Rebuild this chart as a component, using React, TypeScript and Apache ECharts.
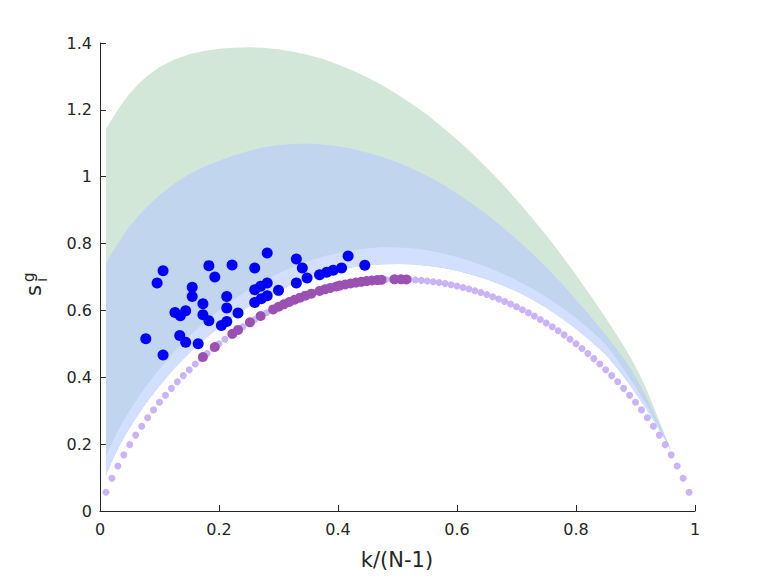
import React, { useEffect, useRef } from "react";
import * as echarts from "echarts";

// light purple reference curve points
const lightX = [
  0.01, 0.02, 0.03, 0.04, 0.05, 0.06, 0.07, 0.08, 0.09, 0.1,
  0.11, 0.12, 0.13, 0.14, 0.15, 0.16, 0.17, 0.18, 0.19, 0.2,
  0.21, 0.22, 0.23, 0.24, 0.25, 0.26, 0.27, 0.28, 0.29, 0.3,
  0.31, 0.32, 0.33, 0.34, 0.35, 0.36, 0.37, 0.38, 0.39, 0.4,
  0.41, 0.42, 0.43, 0.44, 0.45, 0.46, 0.47, 0.48, 0.49, 0.5,
  0.51, 0.52, 0.53, 0.54, 0.55, 0.56, 0.57, 0.58, 0.59, 0.6,
  0.61, 0.62, 0.63, 0.64, 0.65, 0.66, 0.67, 0.68, 0.69, 0.7,
  0.71, 0.72, 0.73, 0.74, 0.75, 0.76, 0.77, 0.78, 0.79, 0.8,
  0.81, 0.82, 0.83, 0.84, 0.85, 0.86, 0.87, 0.88, 0.89, 0.9,
  0.91, 0.92, 0.93, 0.94, 0.95, 0.96, 0.97, 0.98, 0.99,
];
const lightY = [
  0.056, 0.098, 0.1347, 0.1679, 0.1985, 0.227, 0.2536, 0.2788, 0.3025, 0.3251,
  0.3465, 0.3669, 0.3864, 0.405, 0.4227, 0.4397, 0.4559, 0.4714, 0.4862, 0.5004,
  0.514, 0.5269, 0.5393, 0.5511, 0.5623, 0.5731, 0.5833, 0.593, 0.6022, 0.6109,
  0.6191, 0.6269, 0.6342, 0.641, 0.6474, 0.6534, 0.659, 0.6641, 0.6687, 0.673,
  0.6769, 0.6803, 0.6833, 0.6859, 0.6881, 0.6899, 0.6913, 0.6923, 0.6929, 0.6931,
  0.6929, 0.6923, 0.6913, 0.6899, 0.6881, 0.6859, 0.6833, 0.6803, 0.6769, 0.673,
  0.6687, 0.6641, 0.659, 0.6534, 0.6474, 0.641, 0.6342, 0.6269, 0.6191, 0.6109,
  0.6022, 0.593, 0.5833, 0.5731, 0.5623, 0.5511, 0.5393, 0.5269, 0.514, 0.5004,
  0.4862, 0.4714, 0.4559, 0.4397, 0.4227, 0.405, 0.3864, 0.3669, 0.3465, 0.3251,
  0.3025, 0.2788, 0.2536, 0.227, 0.1985, 0.1679, 0.1347, 0.098, 0.056,
];

// dark purple points
const darkX = [
  0.173, 0.193, 0.2225, 0.232, 0.252, 0.27, 0.291, 0.3, 0.309, 0.318,
  0.327, 0.336, 0.345, 0.355, 0.369, 0.378, 0.387, 0.397, 0.403, 0.412,
  0.421, 0.43, 0.439, 0.448, 0.457, 0.466, 0.473, 0.495, 0.506, 0.515,
];
const darkY = [
  0.4606, 0.4905, 0.53, 0.5418, 0.5645, 0.5833, 0.6031, 0.6109, 0.6183, 0.6253,
  0.632, 0.6383, 0.6442, 0.6502, 0.6584, 0.6631, 0.6673, 0.6717, 0.6742, 0.6776,
  0.6806, 0.6833, 0.6856, 0.6877, 0.6894, 0.6907, 0.6916, 0.693, 0.6931, 0.6927,
];

// blue points
const blueX = [
  0.106, 0.096, 0.077, 0.106, 0.155, 0.155, 0.126, 0.135, 0.144, 0.173,
  0.173, 0.183, 0.134, 0.144, 0.165, 0.183, 0.193, 0.222, 0.213, 0.213,
  0.232, 0.204, 0.213, 0.26, 0.281, 0.26, 0.27, 0.281, 0.26, 0.271,
  0.281, 0.3, 0.33, 0.34, 0.348, 0.33, 0.369, 0.381, 0.392, 0.406,
  0.417, 0.445,
];
const blueY = [
  0.719, 0.682, 0.515, 0.467, 0.669, 0.642, 0.594, 0.584, 0.599, 0.62,
  0.587, 0.569, 0.525, 0.505, 0.5, 0.734, 0.7, 0.736, 0.642, 0.607,
  0.592, 0.555, 0.567, 0.727, 0.772, 0.662, 0.672, 0.682, 0.624, 0.635,
  0.644, 0.66, 0.754, 0.727, 0.697, 0.682, 0.707, 0.714, 0.72, 0.727,
  0.763, 0.735,
];

// shaded bands (upper edges and common lower edge)
const bandX = [
  0.01, 0.02, 0.03, 0.04, 0.05, 0.065, 0.08, 0.1, 0.125, 0.15,
  0.175, 0.2, 0.225, 0.25, 0.275, 0.3, 0.325, 0.35, 0.375, 0.4,
  0.425, 0.45, 0.475, 0.5, 0.525, 0.55, 0.575, 0.6, 0.625, 0.65,
  0.675, 0.7, 0.725, 0.75, 0.775, 0.8, 0.825, 0.85, 0.865, 0.88,
  0.895, 0.91, 0.9225, 0.935, 0.9475, 0.96,
];
const greenTop = [
  1.143, 1.173, 1.2, 1.226, 1.249, 1.278, 1.302, 1.328, 1.351, 1.366,
  1.376, 1.383, 1.386, 1.387, 1.386, 1.381, 1.374, 1.364, 1.352, 1.336,
  1.318, 1.297, 1.273, 1.246, 1.217, 1.185, 1.149, 1.111, 1.071, 1.027,
  0.981, 0.931, 0.879, 0.825, 0.767, 0.706, 0.643, 0.577, 0.536, 0.494,
  0.449, 0.398, 0.347, 0.292, 0.236, 0.18,
];
const blueTop = [
  0.741, 0.772, 0.8, 0.828, 0.852, 0.884, 0.912, 0.945, 0.98, 1.008,
  1.03, 1.048, 1.064, 1.077, 1.088, 1.095, 1.098, 1.099, 1.096, 1.091,
  1.083, 1.072, 1.059, 1.043, 1.024, 1.002, 0.978, 0.95, 0.92, 0.888,
  0.852, 0.814, 0.773, 0.729, 0.683, 0.633, 0.581, 0.527, 0.493, 0.457,
  0.418, 0.37, 0.325, 0.278, 0.23, 0.18,
];
const lavenderTop = [
  0.163, 0.203, 0.239, 0.271, 0.301, 0.342, 0.379, 0.425, 0.477, 0.523,
  0.564, 0.6, 0.633, 0.662, 0.688, 0.711, 0.73, 0.747, 0.761, 0.772,
  0.78, 0.786, 0.789, 0.788, 0.786, 0.78, 0.771, 0.76, 0.746, 0.73,
  0.711, 0.69, 0.666, 0.64, 0.61, 0.577, 0.54, 0.498, 0.463, 0.425,
  0.385, 0.342, 0.305, 0.265, 0.222, 0.18,
];
const bandBottom = [
  0.108, 0.149, 0.186, 0.219, 0.249, 0.291, 0.329, 0.375, 0.427, 0.473,
  0.513, 0.55, 0.582, 0.611, 0.636, 0.659, 0.678, 0.695, 0.709, 0.72,
  0.729, 0.735, 0.738, 0.739, 0.738, 0.734, 0.728, 0.719, 0.707, 0.693,
  0.676, 0.657, 0.634, 0.608, 0.578, 0.545, 0.508, 0.468, 0.436, 0.402,
  0.366, 0.327, 0.293, 0.257, 0.22, 0.18,
];

const xTicks = { min: 0, max: 1, interval: 0.2 };
const yTicks = { min: 0, max: 1.4, interval: 0.2 };

const FONT = '"DejaVu Sans", sans-serif';
const INK = "#262626";

function bandSeries(top: number[], color: string, z: number) {
  return {
    type: "custom",
    silent: true,
    z,
    data: [[0, 0]],
    renderItem: (_params: any, api: any) => {
      const pts: number[][] = [];
      for (let i = 0; i < bandX.length; i++) pts.push(api.coord([bandX[i], top[i]]));
      for (let i = bandX.length - 1; i >= 0; i--) pts.push(api.coord([bandX[i], bandBottom[i]]));
      return { type: "polygon", shape: { points: pts }, style: { fill: color, stroke: null } };
    },
  };
}

function axisCommon() {
  return {
    axisLine: { show: true, onZero: false, lineStyle: { color: INK, width: 1 } },
    axisTick: { show: true, inside: true, length: 6, lineStyle: { color: INK, width: 1 } },
    axisLabel: { color: INK, fontSize: 16, fontFamily: FONT },
    splitLine: { show: false },
  };
}

export default function App() {
  const ref = useRef<HTMLDivElement>(null);
  useEffect(() => {
    if (!ref.current) return;
    const chart = echarts.init(ref.current, undefined, { renderer: "svg" });
    const c = axisCommon();
    chart.setOption({
      animation: false,
      backgroundColor: "#ffffff",
      grid: { left: 100, right: 73, top: 43, bottom: 65, containLabel: false },
      xAxis: {
        type: "value",
        ...xTicks,
        ...c,
        axisLabel: { ...c.axisLabel, margin: 10 },
      },
      yAxis: {
        type: "value",
        ...yTicks,
        ...c,
        axisLabel: { ...c.axisLabel, margin: 8 },
      },
      graphic: [
        {
          type: "text",
          x: 397,
          y: 560,
          style: { text: "k/(N-1)", font: `21px ${FONT}`, fill: INK, align: "center", verticalAlign: "middle" },
        },
        {
          type: "group",
          x: 40,
          y: 296,
          rotation: Math.PI / 2,
          children: [
            { type: "text", x: 0, y: 4, style: { text: "s", font: `21px ${FONT}`, fill: INK, align: "left", verticalAlign: "bottom" } },
            { type: "text", x: 14, y: -4, style: { text: "g", font: `15px ${FONT}`, fill: INK, align: "left", verticalAlign: "bottom" } },
            { type: "text", x: 14, y: 9, style: { text: "i", font: `15px ${FONT}`, fill: INK, align: "left", verticalAlign: "bottom" } },
          ],
        },
      ],
      series: [
        bandSeries(greenTop, "#d3e7d8", 1),
        bandSeries(blueTop, "#c1d6ee", 2),
        bandSeries(lavenderTop, "#d3dfff", 3),
        {
          type: "scatter",
          z: 4,
          symbol: "circle",
          symbolSize: 7,
          itemStyle: { color: "#c9b4fa", opacity: 1 },
          data: lightX.map((x, i) => [x, lightY[i]]),
        },
        {
          type: "scatter",
          z: 5,
          symbol: "circle",
          symbolSize: 10,
          itemStyle: { color: "#9a51b2", opacity: 1 },
          data: darkX.map((x, i) => [x, darkY[i]]),
        },
        {
          type: "scatter",
          z: 6,
          symbol: "circle",
          symbolSize: 11,
          itemStyle: { color: "#0000ff", opacity: 1 },
          data: blueX.map((x, i) => [x, blueY[i]]),
        },
      ],
    });
    return () => chart.dispose();
  }, []);
  return <div ref={ref} style={{ position: "absolute", left: 0, top: 0, width: 768, height: 576 }} />;
}
